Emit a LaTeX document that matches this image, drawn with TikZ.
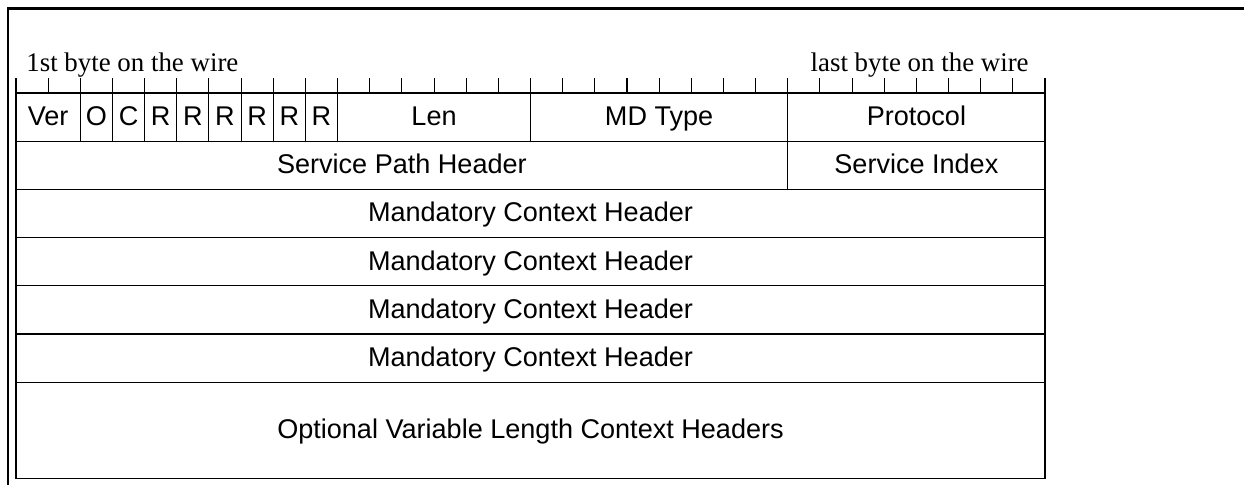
\documentclass[tikz,border=0pt]{standalone}
\usepackage{fontspec}
\setmainfont{Liberation Serif}
\setsansfont{Liberation Sans}
\usetikzlibrary{positioning}
\def\bw{0.643125}
\def\rh{0.964}
\tikzset{
  field/.style={draw, rectangle, line width=0.6pt, inner sep=0pt, outer sep=0pt, anchor=north west, minimum width=#1*\bw cm, minimum height=\rh cm, text height=11pt, text depth=1.5pt, font=\sffamily\fontsize{15.4}{18}\selectfont},
  wire/.style={font=\fontsize{15.3}{18}\selectfont, inner sep=0pt},
  bittick/.style={line width=0.6pt},
  frame/.style={line width=1.15pt},
}

\begin{document}
\begin{tikzpicture}
\useasboundingbox (0,0) rectangle (24.88,-9.7);

% outer frame, only top and left visible
\draw[frame] (0.16,-9.7) -- (0.16,-0.17) -- (24.88,-0.17);

\node[wire, anchor=base west] (first) at (0.52,-1.42) {1st byte on the wire};
\node[wire, anchor=base east] (last) at (20.58,-1.42) {last byte on the wire};

% bit ticks
\foreach \b in {0,...,32}
  \draw[bittick] (0.32+\b*\bw,-1.86) -- ++(0,0.3);

% first word
\node[field=2] (ver) at (0.32,-1.86) {Ver};
\node[field=1] (oflag) at (ver.north east) {O};
\node[field=1] (cflag) at (oflag.north east) {C};
\node[field=1] (r1) at (cflag.north east) {R};
\node[field=1] (r2) at (r1.north east) {R};
\node[field=1] (r3) at (r2.north east) {R};
\node[field=1] (r4) at (r3.north east) {R};
\node[field=1] (r5) at (r4.north east) {R};
\node[field=1] (r6) at (r5.north east) {R};
\node[field=6] (len) at (r6.north east) {Len};
\node[field=8] (mdtype) at (len.north east) {MD Type};
\node[field=8] (proto) at (mdtype.north east) {Protocol};

% second word
\node[field=24] (sph) at (ver.south west) {Service Path Header};
\node[field=8] (sidx) at (sph.north east) {Service Index};

% context headers
\foreach \i in {1,...,4}
  \node[field=32] (mch\i) at (0.32,{-1.86-(\i+1)*\rh}) {Mandatory Context Header};
\node[field=32, minimum height=2*\rh cm] (opt) at (mch4.south west) {Optional Variable Length Context Headers};

\end{tikzpicture}
\end{document}
